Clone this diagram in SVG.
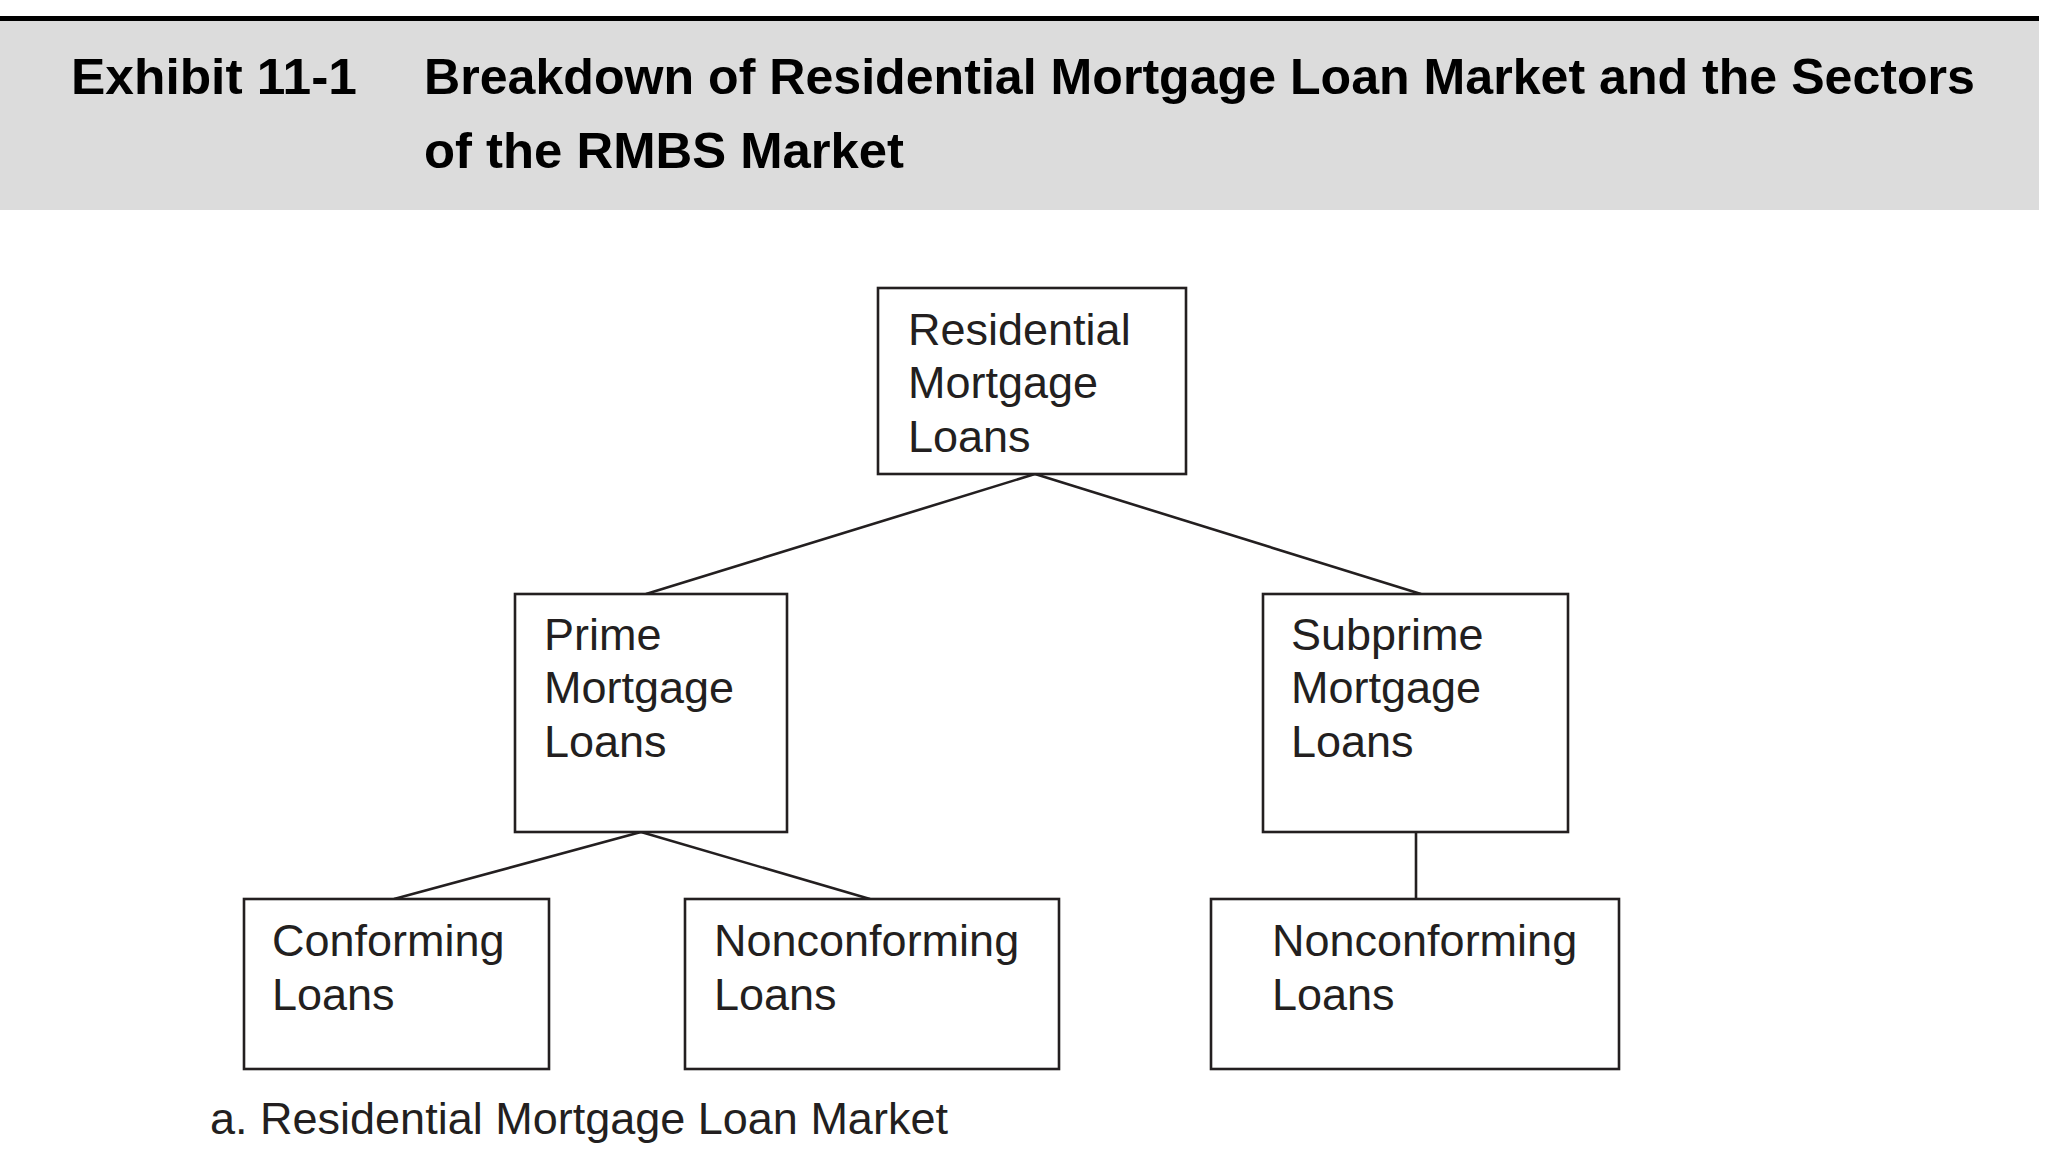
<svg xmlns="http://www.w3.org/2000/svg" width="2054" height="1156" viewBox="0 0 2054 1156">
<style>
.box{fill:#fff;stroke:#231f20;stroke-width:2.6}
.lbl{font-family:"Liberation Sans",Arial,sans-serif;font-size:45px;fill:#231f20}
.hd{font-family:"Liberation Sans",Arial,sans-serif;font-size:50px;font-weight:bold;fill:#000}
.con line{stroke:#231f20;stroke-width:2.6}
</style>
<rect x="0" y="0" width="2054" height="1156" fill="#fff"/>
<g id="header">
<rect x="0" y="20" width="2039" height="190" fill="#dcdcdc"/>
<rect x="0" y="16" width="2039" height="5" fill="#000"/>
<text class="hd" x="71" y="94" textLength="286" lengthAdjust="spacingAndGlyphs">Exhibit 11-1</text>
<text class="hd" x="424" y="94" textLength="1551" lengthAdjust="spacingAndGlyphs">Breakdown of Residential Mortgage Loan Market and the Sectors</text>
<text class="hd" x="424" y="168" textLength="480" lengthAdjust="spacingAndGlyphs">of the RMBS Market</text>
</g>
<g id="connectors" class="con">
<line x1="1035" y1="474" x2="646" y2="594"/>
<line x1="1035" y1="474" x2="1421" y2="594"/>
<line x1="641" y1="832" x2="394" y2="899"/>
<line x1="641" y1="832" x2="870" y2="899"/>
<line x1="1416" y1="832" x2="1416" y2="899"/>
</g>
<g id="residential">
<rect class="box" x="878" y="288" width="308" height="186"/>
<text class="lbl" x="908" y="345">Residential</text>
<text class="lbl" x="908" y="398">Mortgage</text>
<text class="lbl" x="908" y="452">Loans</text>
</g>
<g id="prime">
<rect class="box" x="515" y="594" width="272" height="238"/>
<text class="lbl" x="544" y="650">Prime</text>
<text class="lbl" x="544" y="703">Mortgage</text>
<text class="lbl" x="544" y="757">Loans</text>
</g>
<g id="subprime">
<rect class="box" x="1263" y="594" width="305" height="238"/>
<text class="lbl" x="1291" y="650">Subprime</text>
<text class="lbl" x="1291" y="703">Mortgage</text>
<text class="lbl" x="1291" y="757">Loans</text>
</g>
<g id="conforming">
<rect class="box" x="244" y="899" width="305" height="170"/>
<text class="lbl" x="272" y="956">Conforming</text>
<text class="lbl" x="272" y="1010">Loans</text>
</g>
<g id="nonconforming-prime">
<rect class="box" x="685" y="899" width="374" height="170"/>
<text class="lbl" x="714" y="956">Nonconforming</text>
<text class="lbl" x="714" y="1010">Loans</text>
</g>
<g id="nonconforming-subprime">
<rect class="box" x="1211" y="899" width="408" height="170"/>
<text class="lbl" x="1272" y="956">Nonconforming</text>
<text class="lbl" x="1272" y="1010">Loans</text>
</g>
<text id="caption" class="lbl" x="210" y="1134">a. Residential Mortgage Loan Market</text>
</svg>
